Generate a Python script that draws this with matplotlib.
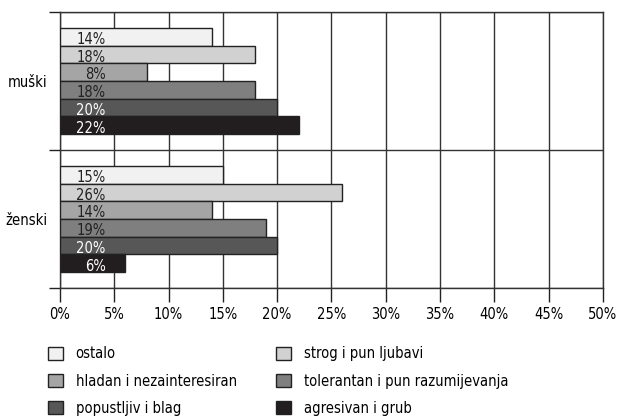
import matplotlib
matplotlib.use('Agg')
import matplotlib.pyplot as plt
from matplotlib.patches import Patch
import numpy as np

plt.rcParams['font.family'] = ['DejaVu Sans']
plt.rcParams['font.stretch'] = 'condensed'

groups = ['muški', 'ženski']
series = ['ostalo', 'strog i pun ljubavi', 'hladan i nezainteresiran',
          'tolerantan i pun razumijevanja', 'popustljiv i blag', 'agresivan i grub']
values = {
    'ostalo': [14, 15],
    'strog i pun ljubavi': [18, 26],
    'hladan i nezainteresiran': [8, 14],
    'tolerantan i pun razumijevanja': [18, 19],
    'popustljiv i blag': [20, 20],
    'agresivan i grub': [22, 6],
}
colors = ['#f1f1f1', '#d1d1d1', '#a5a5a5', '#7f7f7f', '#575757', '#221e1f']
text_colors = ['#222222', '#222222', '#222222', '#222222', 'white', 'white']
xticks = [0, 5, 10, 15, 20, 25, 30, 35, 40, 45, 50]

fig = plt.figure(figsize=(6.24, 4.17), dpi=100)
ax = fig.add_axes([0.0962, 0.3094, 0.8700, 0.6618])

n = len(series)
h = 0.77 / n
y0 = np.arange(len(groups))
for i, s in enumerate(series):
    ypos = y0 - 0.385 + h * (i + 0.5)
    ax.barh(ypos, values[s], height=h, color=colors[i], edgecolor='#222222',
            linewidth=1, zorder=3)
    for y, v in zip(ypos, values[s]):
        ax.text(4.2, y + 0.02, f'{v}%', ha='right', va='center', fontsize=10.5,
                color=text_colors[i], zorder=4)

ax.set_xlim(0, 50)
ax.set_ylim(1.5, -0.5)
ax.set_xticks(xticks)
ax.set_xticklabels([f'{t}%' for t in xticks], fontsize=10.5)
ax.set_yticks(y0)
ax.set_yticklabels(groups, fontsize=10.5)
ax.set_yticks([-0.5, 0.5, 1.5], minor=True)
ax.tick_params(axis='y', which='major', length=0, pad=9)
ax.tick_params(axis='y', which='minor', length=8, width=1, color='#222222')
ax.tick_params(axis='x', length=10, width=1, color='#222222', pad=4)
ax.grid(axis='x', which='major', color='#333333', linewidth=1, zorder=0)
ax.grid(axis='y', which='minor', color='#333333', linewidth=1, zorder=0)
for sp in ax.spines.values():
    sp.set_color('#333333')
    sp.set_linewidth(1)

handles = [Patch(facecolor=colors[i], edgecolor='#222222', linewidth=1, label=s)
           for i, s in enumerate(series)]
# legenda u dva stupca
for col, x in ((0, 48 / 624), (1, 276 / 624)):
    idx = [col, col + 2, col + 4]
    fig.legend([handles[i] for i in idx], [series[i] for i in idx],
               loc='upper left', bbox_to_anchor=(x, 0.17),
               frameon=False, fontsize=10.5, handlelength=1.0, handleheight=1.0,
               labelspacing=0.85, handletextpad=0.9, borderpad=0,
               borderaxespad=0)

fig.savefig('out.png', dpi=100)
